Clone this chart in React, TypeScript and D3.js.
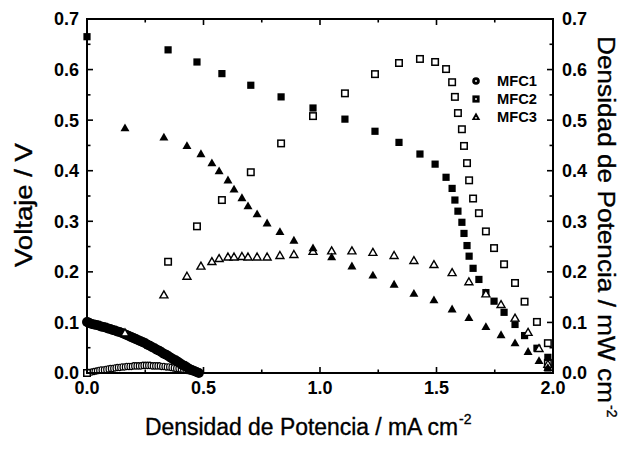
import React from "react";
import * as d3 from "d3";

// ---------- DATA ----------
// MFC1 (dense)
const mfc1Current = [0, 0.005, 0.01, 0.02, 0.03, 0.04, 0.05, 0.06, 0.07, 0.08, 0.09, 0.1, 0.11, 0.12, 0.13, 0.14, 0.15, 0.16, 0.17, 0.18, 0.19, 0.2, 0.21, 0.22, 0.23, 0.24, 0.25, 0.26, 0.27, 0.28, 0.29, 0.3, 0.31, 0.32, 0.33, 0.34, 0.35, 0.36, 0.37, 0.38, 0.39, 0.4, 0.41, 0.42, 0.43, 0.44, 0.45, 0.46, 0.47, 0.48];
const mfc1Voltage = [0.101, 0.1, 0.099, 0.097, 0.096, 0.095, 0.094, 0.092, 0.091, 0.09, 0.088, 0.087, 0.085, 0.084, 0.082, 0.081, 0.079, 0.077, 0.075, 0.073, 0.071, 0.069, 0.067, 0.065, 0.063, 0.061, 0.059, 0.056, 0.054, 0.051, 0.049, 0.046, 0.044, 0.041, 0.038, 0.036, 0.033, 0.03, 0.027, 0.025, 0.022, 0.019, 0.016, 0.014, 0.011, 0.008, 0.006, 0.004, 0.002, 0.0];
const mfc1Power = [0.0, 0.001, 0.001, 0.002, 0.003, 0.004, 0.005, 0.006, 0.006, 0.007, 0.008, 0.009, 0.009, 0.01, 0.011, 0.011, 0.012, 0.012, 0.013, 0.013, 0.013, 0.014, 0.014, 0.014, 0.014, 0.015, 0.015, 0.015, 0.015, 0.014, 0.014, 0.014, 0.014, 0.013, 0.013, 0.012, 0.012, 0.011, 0.01, 0.009, 0.009, 0.008, 0.007, 0.006, 0.005, 0.004, 0.003, 0.002, 0.001, 0.0];

// MFC2
const mfc2Current = [0.0, 0.348, 0.472, 0.579, 0.703, 0.833, 0.97, 1.107, 1.236, 1.339, 1.429, 1.494, 1.541, 1.567, 1.579, 1.592, 1.609, 1.618, 1.631, 1.64, 1.657, 1.682, 1.712, 1.747, 1.79, 1.837, 1.878, 1.931, 1.978, 1.978];
const mfc2Voltage = [0.665, 0.639, 0.615, 0.592, 0.569, 0.546, 0.524, 0.502, 0.478, 0.456, 0.433, 0.413, 0.387, 0.365, 0.342, 0.32, 0.298, 0.276, 0.252, 0.231, 0.207, 0.185, 0.159, 0.142, 0.12, 0.096, 0.074, 0.049, 0.031, 0.01];
const mfc2Power = [0.0, 0.22, 0.29, 0.342, 0.397, 0.454, 0.508, 0.553, 0.591, 0.613, 0.621, 0.615, 0.601, 0.575, 0.546, 0.514, 0.482, 0.449, 0.415, 0.381, 0.345, 0.316, 0.28, 0.247, 0.215, 0.178, 0.141, 0.101, 0.059, 0.02];

// MFC3
const mfc3Current = [0.163, 0.33, 0.429, 0.489, 0.536, 0.567, 0.605, 0.631, 0.665, 0.691, 0.73, 0.773, 0.828, 0.888, 0.97, 1.05, 1.137, 1.227, 1.318, 1.403, 1.489, 1.567, 1.639, 1.712, 1.777, 1.837, 1.893, 1.94, 1.978];
const mfc3Voltage = [0.484, 0.466, 0.449, 0.433, 0.415, 0.399, 0.381, 0.363, 0.346, 0.33, 0.314, 0.296, 0.279, 0.262, 0.247, 0.229, 0.211, 0.193, 0.175, 0.157, 0.144, 0.126, 0.109, 0.091, 0.075, 0.059, 0.042, 0.024, 0.01];
const mfc3Power = [0.079, 0.154, 0.191, 0.211, 0.22, 0.226, 0.229, 0.229, 0.23, 0.229, 0.229, 0.229, 0.232, 0.234, 0.24, 0.241, 0.241, 0.238, 0.232, 0.222, 0.214, 0.198, 0.18, 0.156, 0.135, 0.108, 0.08, 0.048, 0.017];

const xTicks = [0, 0.5, 1.0, 1.5, 2.0];
const yTicks = [0, 0.1, 0.2, 0.3, 0.4, 0.5, 0.6, 0.7];
const legendLabels = ["MFC1", "MFC2", "MFC3"];

// ---------- LAYOUT ----------
const W = 629, H = 453;
const L = 87, R = 553, T = 19, B = 373;
const FONT = "Arial, 'Liberation Sans', Helvetica, sans-serif";

export default function App() {
  const x = d3.scaleLinear().domain([0, 2]).range([L, R]);
  const y = d3.scaleLinear().domain([0, 0.7]).range([B, T]);

  const xMinor = d3.range(0, 2.0001, 0.25);
  const yMinor = d3.range(0, 0.7001, 0.05);

  const tri = (cx: number, cy: number, s: number) => {
    const h = s * 0.87;
    return `M${cx},${cy - h * 0.6}L${cx + s / 2},${cy + h * 0.4}L${cx - s / 2},${cy + h * 0.4}Z`;
  };

  const sq = 6.5;
  const titleStroke = { stroke: "#000", strokeWidth: 0.35 };

  return (
    <svg width={W} height={H} style={{ position: "absolute", left: 0, top: 0, background: "#fff" }}>
      <rect x={0} y={0} width={W} height={H} fill="#fff" />

      {/* MFC1 power (open circles) */}
      {mfc1Current.map((c, i) => (
        <ellipse key={"p1" + i} cx={x(c)} cy={y(mfc1Power[i])} rx={1.9} ry={3.2} fill="#fff" stroke="#000" strokeWidth={1.2} />
      ))}
      {/* MFC1 voltage (filled circles) */}
      {mfc1Current.map((c, i) => (
        <circle key={"v1" + i} cx={x(c)} cy={y(mfc1Voltage[i])} r={5} fill="#000" />
      ))}

      {/* MFC2 power (open squares) */}
      {mfc2Current.map((c, i) => (
        <rect key={"p2" + i} x={x(c) - sq / 2} y={y(mfc2Power[i]) - sq / 2} width={sq} height={sq} fill="#fff" stroke="#000" strokeWidth={1.5} />
      ))}
      {/* MFC2 voltage (filled squares) */}
      {mfc2Current.map((c, i) => (
        <rect key={"v2" + i} x={x(c) - 3.6} y={y(mfc2Voltage[i]) - 3.6} width={7.2} height={7.2} fill="#000" />
      ))}

      {/* MFC3 power (open triangles) */}
      {mfc3Current.map((c, i) => (
        <path key={"p3" + i} d={tri(x(c), y(mfc3Power[i]), 8)} fill="#fff" stroke="#000" strokeWidth={1.4} />
      ))}
      {/* MFC3 voltage (filled triangles) */}
      {mfc3Current.map((c, i) => (
        <path key={"v3" + i} d={tri(x(c), y(mfc3Voltage[i]), 9)} fill="#000" />
      ))}

      {/* Frame */}
      <rect x={L} y={T} width={R - L} height={B - T} fill="none" stroke="#000" strokeWidth={2} />

      {/* X ticks (bottom & top, inward) */}
      {xMinor.map((t, i) => {
        const major = Math.abs(t * 2 - Math.round(t * 2)) < 1e-6;
        const len = major ? 6 : 3.5;
        return (
          <g key={"xt" + i}>
            <line x1={x(t)} x2={x(t)} y1={B} y2={B - len} stroke="#000" strokeWidth={1.6} />
            <line x1={x(t)} x2={x(t)} y1={T} y2={T + len} stroke="#000" strokeWidth={1.6} />
          </g>
        );
      })}
      {/* Y ticks (left & right, inward) */}
      {yMinor.map((t, i) => {
        const major = Math.abs(t * 10 - Math.round(t * 10)) < 1e-6;
        const len = major ? 6 : 3.5;
        return (
          <g key={"yt" + i}>
            <line x1={L} x2={L + len} y1={y(t)} y2={y(t)} stroke="#000" strokeWidth={1.6} />
            <line x1={R} x2={R - len} y1={y(t)} y2={y(t)} stroke="#000" strokeWidth={1.6} />
          </g>
        );
      })}

      {/* Tick labels */}
      {xTicks.map((t) => (
        <text key={"xl" + t} x={x(t)} y={B + 21} textAnchor="middle" fontFamily={FONT} fontWeight="bold" fontSize={18}>
          {t.toFixed(1)}
        </text>
      ))}
      {yTicks.map((t) => (
        <text key={"yl" + t} x={L - 8} y={y(t)} dy="0.36em" textAnchor="end" fontFamily={FONT} fontWeight="bold" fontSize={18}>
          {t.toFixed(1)}
        </text>
      ))}
      {yTicks.map((t) => (
        <text key={"yr" + t} x={R + 9} y={y(t)} dy="0.36em" textAnchor="start" fontFamily={FONT} fontWeight="bold" fontSize={18}>
          {t.toFixed(1)}
        </text>
      ))}

      {/* Axis titles */}
      <text x={145} y={435} fontFamily={FONT} fontSize={23} textLength={313} lengthAdjust="spacingAndGlyphs" {...titleStroke}>
        Densidad de Potencia / mA cm
      </text>
      <text x={459} y={424} fontFamily={FONT} fontSize={14} {...titleStroke}>-2</text>

      <text transform="translate(32,267) rotate(-90)" fontFamily={FONT} fontSize={23} textLength={124} lengthAdjust="spacingAndGlyphs" {...titleStroke}>
        Voltaje / V
      </text>

      <text transform="translate(598,36) rotate(90)" fontFamily={FONT} fontSize={23} textLength={367} lengthAdjust="spacingAndGlyphs" {...titleStroke}>
        Densidad de Potencia / mW cm
      </text>
      <text transform="translate(607,405) rotate(90)" fontFamily={FONT} fontSize={14} {...titleStroke}>-2</text>

      {/* Legend */}
      {legendLabels.map((lab, i) => {
        const ly = 81 + i * 18;
        const lx = 476;
        return (
          <g key={lab}>
            {i === 0 && <circle cx={lx} cy={ly} r={3.8} fill="#000" />}
            {i === 1 && <rect x={lx - 3.6} y={ly - 3.6} width={7.2} height={7.2} fill="#000" />}
            {i === 2 && <path d={tri(lx, ly, 8.5)} fill="#000" />}
            <circle cx={lx} cy={ly + (i === 2 ? 0.8 : 0)} r={0.9} fill="#fff" />
            <text x={497} y={ly} dy="0.36em" fontFamily={FONT} fontWeight="bold" fontSize={14} textLength={40} lengthAdjust="spacingAndGlyphs">
              {lab}
            </text>
          </g>
        );
      })}
    </svg>
  );
}
